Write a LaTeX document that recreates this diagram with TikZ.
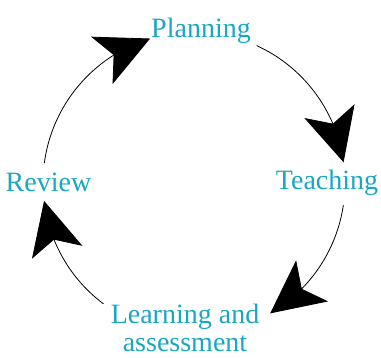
\documentclass[tikz,border=0pt]{standalone}
\usepackage{fontspec}
\setmainfont{Liberation Serif}
\usetikzlibrary{arrows.meta,bending}
\definecolor{labelcol}{HTML}{19A7C1}
\begin{document}
\begin{tikzpicture}[x=1pt,y=1pt,
  lab/.style={text=labelcol,font=\fontsize{28}{28}\selectfont,inner sep=0pt,anchor=base,align=center},
  cyc/.style={line width=0.8pt,-{Stealth[length=53pt,width=52pt,inset=13pt,flex=1]}}]
\useasboundingbox (0,0) rectangle (381,-357);
\coordinate (c) at (194,-183);
\node[lab] (plan) at (201,-37) {Planning};
\node[lab] (teach) at (327,-189) {Teaching};
\node[lab,text depth=0pt] (learn) at (185,-351.5) {Learning and\\assessment};
\node[lab] (rev) at (48.5,-191) {Review};
\draw[cyc] ([shift={(172.4:151)}]c) arc[start angle=172.4,end angle=106.9,radius=151];
\draw[cyc] ([shift={(65.5:151)}]c) arc[start angle=65.5,end angle=7.9,radius=151];
\draw[cyc] ([shift={(-8.4:151)}]c) arc[start angle=-8.4,end angle=-59.7,radius=151];
\draw[cyc] ([shift={(233.2:151)}]c) arc[start angle=233.2,end angle=186.8,radius=151];
\end{tikzpicture}
\end{document}
